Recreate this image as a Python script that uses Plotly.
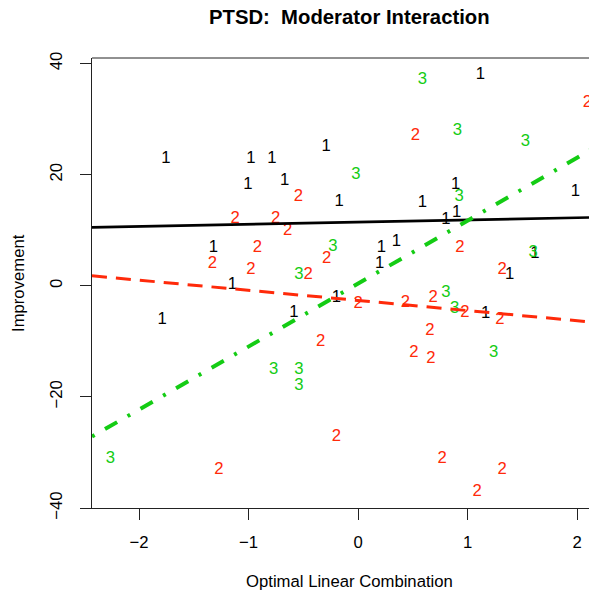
import plotly.graph_objects as go

# ---- data ----
x1 = [-1.756, -0.980, -0.788, -0.292, -1.007, -0.670, -0.172, 0.588, 0.892, 1.985,
      1.118, -1.321, 0.214, 0.351, 0.198, 0.801, 0.899, 1.385, 1.614, -1.147,
      -0.197, -0.586, -1.790, 1.166]
y1 = [22.83, 22.83, 22.83, 25.0, 18.09, 18.93, 15.06, 14.97, 18.21, 17.0,
      37.9, 6.81, 6.81, 7.9, 3.93, 11.96, 13.17, 2.0, 5.73, 0.2,
      -2.19, -4.89, -6.09, -5.01]

x2 = [-1.122, -0.753, -0.643, -0.544, -0.919, -1.330, -0.980, -0.286, -0.456, 0.524,
      2.095, 0.929, 1.315, 0.0, 0.433, 0.685, 0.976, 1.295, 0.655, 0.509,
      0.664, -0.343, -0.197, 0.767, 1.315, 1.087, -1.272]
y2 = [12.09, 12.09, 9.93, 15.93, 6.81, 3.93, 2.85, 4.89, 2.0, 27.03,
      32.92, 6.92, 2.91, -3.21, -2.98, -2.19, -4.89, -6.09, -8.02, -11.98,
      -13.06, -10.0, -27.21, -31.18, -33.1, -37.06, -33.1]

x3 = [0.588, 0.908, 1.529, -0.021, 0.922, -0.231, -0.540, 1.598, 0.801, 0.883,
      1.239, -0.770, -0.540, -0.540, -2.261]
y3 = [37.0, 27.88, 25.9, 20.01, 15.93, 7.05, 2.0, 6.02, -1.18, -4.17,
      -11.98, -15.1, -15.1, -17.98, -31.18]

group_labels = ["1", "2", "3"]
fit_intercepts = [11.47, -2.64, 0.39]
fit_slopes = [0.39, -1.824, 11.33]

xlim = [-2.43, 2.182]
ylim = [-40, 41]
xticks = [-2, -1, 0, 1, 2]
xticklabels = ["\u22122", "\u22121", "0", "1", "2"]
yticks = [-40, -20, 0, 20, 40]
yticklabels = ["\u221240", "\u221220", "0", "20", "40"]

title_text = "PTSD:\u00a0\u00a0Moderator Interaction"
xlabel = "Optimal Linear Combination"
ylabel = "Improvement"

# ---- styles ----
colors = ["#000000", "#FF2A0A", "#14CC14"]
line_widths = [2.7, 3, 4]
line_dashes = ["solid", "15px,9px", "3px,12px,14px,12px"]
FONT = "Liberation Sans, Arial, Helvetica, sans-serif"
FS = 16.7

fig = go.Figure()
for xs, ys, lab, col in zip([x1, x2, x3], [y1, y2, y3], group_labels, colors):
    fig.add_trace(go.Scatter(
        x=xs, y=ys, mode="text", text=[lab] * len(xs),
        textposition="middle center",
        textfont=dict(family=FONT, size=FS, color=col),
        showlegend=False, hoverinfo="skip"))

for a, b, col, w, d in zip(fit_intercepts, fit_slopes, colors, line_widths, line_dashes):
    fig.add_trace(go.Scatter(
        x=xlim, y=[a + b * xlim[0], a + b * xlim[1]], mode="lines",
        line=dict(color=col, width=w, dash=d),
        showlegend=False, hoverinfo="skip"))

# the page body has an 8px margin, so the figure sits at (8, 8)
OFF = 8
W, H = 597 - OFF, 594 - OFF
L, T = 92 - OFF, 58 - OFF
B = 594 - 508
R = 0
plot_w = W - L - R
title_cx = 349.4 - OFF

fig.update_layout(
    width=W, height=H,
    margin=dict(l=L, r=R, t=T, b=B, pad=0),
    paper_bgcolor="white", plot_bgcolor="white",
    font=dict(family=FONT, size=FS, color="black"),
    xaxis=dict(range=xlim, showgrid=False, zeroline=False,
               showline=True, linecolor="#222", linewidth=1,
               ticks="outside", ticklen=11, tickwidth=1, tickcolor="#222",
               tickvals=xticks, ticktext=xticklabels,
               tickfont=dict(family=FONT, size=FS, color="black"),
               ticklabelstandoff=8),
    yaxis=dict(range=ylim, showgrid=False, zeroline=False,
               showline=True, linecolor="#222", linewidth=1,
               ticks="outside", ticklen=11, tickwidth=1, tickcolor="#222",
               tickvals=yticks, ticktext=yticklabels, tickangle=-90,
               tickfont=dict(family=FONT, size=FS, color="black"),
               ticklabelstandoff=11),
    shapes=[dict(type="line", xref="paper", yref="paper", x0=0, x1=1, y0=1, y1=1,
                 line=dict(color="#222", width=1))],
    annotations=[
        dict(text="<b>" + title_text + "</b>", xref="paper", yref="paper",
             x=(title_cx - L) / plot_w, y=1, xanchor="center", yanchor="middle",
             yshift=T - (17 - OFF), showarrow=False,
             font=dict(family=FONT, size=20.3, color="black")),
        dict(text=xlabel, xref="paper", yref="paper",
             x=(title_cx - L) / plot_w, y=0, xanchor="center", yanchor="middle",
             yshift=-(581 - 508), showarrow=False,
             font=dict(family=FONT, size=FS, color="black")),
        dict(text=ylabel, xref="paper", yref="paper", textangle=-90,
             x=0, y=0.5, xanchor="center", yanchor="middle",
             xshift=(18 - OFF) - L, showarrow=False,
             font=dict(family=FONT, size=FS, color="black")),
    ],
)

fig.write_html("out.html")
